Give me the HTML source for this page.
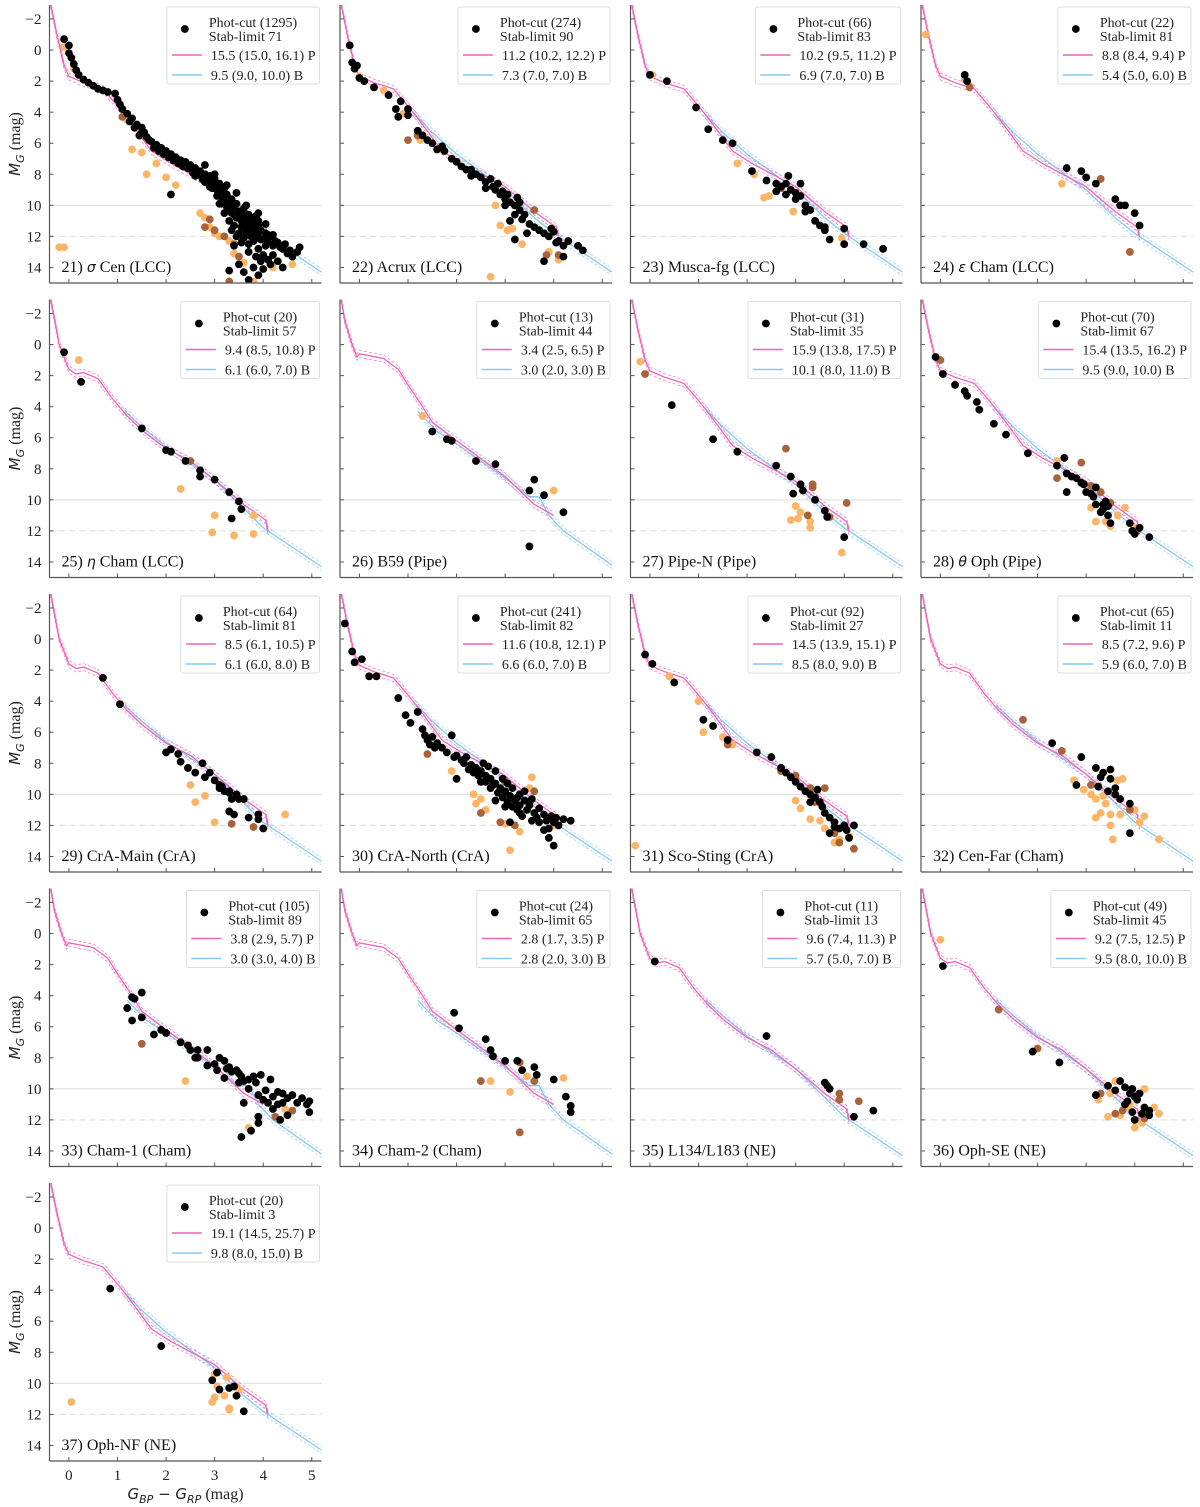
<!DOCTYPE html>
<html><head><meta charset="utf-8"><style>
body{margin:0;background:#fff;}
svg{display:block;font-family:"Liberation Serif",serif;}
</style></head><body>
<svg id="c" width="1200" height="1507" viewBox="0 0 1200 1507"></svg>
<script>
const panelNames=["21) |σ| Cen (LCC)","22) Acrux (LCC)","23) Musca-fg (LCC)","24) |ε| Cham (LCC)","25) |η| Cham (LCC)","26) B59 (Pipe)","27) Pipe-N (Pipe)","28) |θ| Oph (Pipe)","29) CrA-Main (CrA)","30) CrA-North (CrA)","31) Sco-Sting (CrA)","32) Cen-Far (Cham)","33) Cham-1 (Cham)","34) Cham-2 (Cham)","35) L134/L183 (NE)","36) Oph-SE (NE)","37) Oph-NF (NE)"];
const photCut=[1295,274,66,22,20,13,31,70,64,241,92,65,105,24,11,49,20];
const stabLimit=[71,90,83,81,57,44,35,67,81,82,27,11,89,65,13,45,3];
const ageP=["15.5 (15.0, 16.1) P","11.2 (10.2, 12.2) P","10.2 (9.5, 11.2) P","8.8 (8.4, 9.4) P","9.4 (8.5, 10.8) P","3.4 (2.5, 6.5) P","15.9 (13.8, 17.5) P","15.4 (13.5, 16.2) P","8.5 (6.1, 10.5) P","11.6 (10.8, 12.1) P","14.5 (13.9, 15.1) P","8.5 (7.2, 9.6) P","3.8 (2.9, 5.7) P","2.8 (1.7, 3.5) P","9.6 (7.4, 11.3) P","9.2 (7.5, 12.5) P","19.1 (14.5, 25.7) P"];
const ageB=["9.5 (9.0, 10.0) B","7.3 (7.0, 7.0) B","6.9 (7.0, 7.0) B","5.4 (5.0, 6.0) B","6.1 (6.0, 7.0) B","3.0 (2.0, 3.0) B","10.1 (8.0, 11.0) B","9.5 (9.0, 10.0) B","6.1 (6.0, 8.0) B","6.6 (6.0, 7.0) B","8.5 (8.0, 9.0) B","5.9 (6.0, 7.0) B","3.0 (3.0, 4.0) B","2.8 (2.0, 3.0) B","5.7 (5.0, 7.0) B","9.5 (8.0, 10.0) B","9.8 (8.0, 15.0) B"];
const isoType=["old","old","old","old","mid","young","old","old","mid","old","old","mid","young","young","mid","mid","old"];
const isoP_old=[[-0.38,-3],[-0.25,-1],[-0.1,1],[0,1.7],[0.3,2.1],[0.5,2.3],[0.7,2.5],[1.0,3.6],[1.3,4.8],[1.7,6.5],[2.1,7.3],[3,8.8],[3.6,10.4],[4.05,11.4],[4.1,12]];
const isoB_old=[[1.1,4.0],[1.5,5.3],[2,6.7],[3,9.0],[3.6,10.8],[4.0,11.8],[5.2,14.3]];
const isoP_mid=[[-0.38,-3],[-0.2,0],[0,1.6],[0.15,1.9],[0.3,1.8],[0.6,2.2],[0.9,3.5],[1.2,4.6],[1.5,5.5],[2,6.7],[2.5,7.5],[3.0,8.7],[3.6,10.3],[4.05,11.3],[4.1,12]];
const isoB_mid=[[1.15,4.3],[1.5,5.3],[2,6.6],[3,8.7],[4,11.8],[5.2,14.3]];
const isoP_young=[[-0.38,-3],[-0.3,-1.5],[-0.15,0],[-0.05,0.8],[0,0.6],[0.5,0.9],[0.8,1.6],[1.0,2.6],[1.3,4.0],[1.5,5.0],[2,6.2],[3,8.5],[3.6,10.3],[4.0,11.0]];
const isoB_young=[[1.2,4.3],[1.6,5.6],[2,6.4],[3,8.6],[3.5,9.8],[3.7,9.8],[3.9,11],[4.2,12],[5.2,14.2]];
const starsBlack=[
[[-0.1,-0.7],[0.0,-0.3],[0,0.2],[0.05,0.5],[0.1,0.9],[0.15,1.3],[0.2,1.6],[0.3,1.9],[0.4,2.1],[0.5,2.3],[0.6,2.5],[0.7,2.6],[0.8,2.7],[0.95,2.8],[1.0,3.2],[1.05,3.5],[1.1,3.8],[1.2,4.1],[1.3,4.4],[1.4,4.8],[1.5,5.0],[1.55,5.3],[1.6,5.6],[1.7,5.9],[1.8,6.1],[1.9,6.3],[2.0,6.5],[2.1,6.7],[2.2,6.9],[2.3,7.1],[2.4,7.2],[2.5,7.4],[2.6,7.6],[2.7,7.8],[2.8,8.0],[2.85,8.3],[2.9,8.1],[2.95,8.5],[3.0,8.3],[3.0,8.8],[3.05,9.0],[3.1,8.6],[3.1,9.2],[3.15,9.5],[3.2,8.9],[3.2,9.7],[3.25,9.3],[3.3,9.9],[3.3,10.3],[3.35,9.6],[3.4,10.1],[3.4,10.6],[3.45,9.9],[3.5,10.4],[3.5,10.8],[3.55,11.0],[3.6,10.2],[3.6,10.7],[3.65,11.2],[3.7,10.6],[3.7,11.4],[3.75,10.9],[3.8,11.6],[3.8,11.1],[3.85,11.8],[3.9,11.3],[3.9,12.0],[3.95,11.6],[4.0,12.2],[4.05,11.8],[4.1,12.4],[4.15,12.0],[4.2,12.6],[4.3,12.4],[4.4,12.8],[4.5,13.1],[4.6,13.3],[4.7,13.0],[4.75,12.7],[3.1,9.9],[3.2,10.5],[3.3,11.0],[3.4,11.3],[3.5,11.8],[3.6,12.1],[3.7,12.5],[3.8,12.3],[3.9,12.8],[4.0,13.2],[4.1,13.5],[4.2,13.2],[3.3,14.2],[3.5,13.8],[3.6,14.3],[3.7,14.8],[3.8,14.0],[3.9,14.5],[4.0,14.1],[4.3,13.6],[4.4,14.0],[2.1,9.3],[2.8,7.4],[1.5,5.3],[3.9,10.5],[3.4,12.6],[4.2,11.9],[3.0,8.0],[3.25,8.7],[3.45,9.2],[3.65,10.0],[3.85,10.7],[4.05,11.2],[2.6,8.1],[2.9,8.8],[1.25,4.6],[1.35,5.0],[1.45,5.5],[1.65,5.8],[1.75,6.3],[1.85,6.5],[1.95,6.7],[2.05,6.9],[2.15,7.1],[2.25,7.3],[2.35,7.5],[2.45,7.6],[2.55,7.9],[2.65,8.0],[2.75,8.3],[2.8,8.5],[2.95,8.9],[3.05,9.4],[3.15,9.0],[3.15,9.9],[3.25,10.1],[3.35,10.5],[3.45,10.8],[3.55,10.5],[3.55,11.4],[3.65,11.0],[3.65,11.7],[3.75,11.3],[3.75,12.0],[3.85,11.4],[3.95,12.2],[4.05,12.6],[4.1,11.9],[4.25,12.3],[4.35,12.7],[4.45,12.5],[4.55,12.9],[3.35,11.6],[3.45,12.0],[3.55,12.4],[3.7,13.0],[3.85,13.3],[3.95,13.6],[4.15,13.8],[3.75,11.8],[3.9,11.0]],
[[-0.2,-0.3],[-0.15,0.8],[-0.1,1.2],[-0.05,1.0],[0.0,1.8],[0.1,2.0],[0.3,2.4],[0.6,2.9],[0.85,3.3],[0.75,3.8],[0.8,4.3],[1.0,3.8],[1.0,4.2],[1.2,5.2],[1.3,5.5],[1.4,5.8],[1.5,6.0],[1.6,6.4],[1.75,6.5],[2.0,7.2],[2.1,7.5],[2.3,7.7],[2.4,8.0],[2.5,8.2],[2.6,8.5],[2.7,8.3],[2.75,8.8],[2.8,9.0],[2.9,9.3],[2.95,9.1],[3.0,9.6],[3.1,9.8],[3.2,10.0],[3.2,10.6],[3.3,10.3],[3.35,10.9],[3.4,10.6],[3.5,11.2],[3.6,11.4],[3.7,11.6],[3.8,11.8],[3.9,12.0],[4.0,11.7],[4.1,12.3],[4.2,12.6],[4.3,12.3],[4.5,12.6],[4.6,12.9],[3.1,11.0],[3.45,11.8],[3.2,12.2],[3.8,13.6],[4.2,13.3],[2.3,8.1],[2.6,8.9],[1.9,7.0],[3.0,10.0],[3.3,9.8],[4.05,12.4],[3.95,11.5],[1.7,6.2],[2.2,7.7],[2.85,8.6],[3.05,9.3],[3.25,9.5]],
[[0.0,1.6],[0.35,2.0],[0.95,3.7],[1.2,5.1],[1.5,5.8],[1.7,6.0],[2.1,7.8],[2.4,8.4],[2.6,8.6],[2.7,8.8],[2.8,9.3],[2.85,8.1],[2.9,9.0],[3.0,9.6],[3.1,8.6],[3.1,9.4],[3.2,10.0],[3.3,10.3],[3.4,11.0],[3.5,11.3],[3.6,11.4],[3.7,12.2],[4.0,12.5],[4.0,11.5],[4.4,12.5],[4.8,12.8],[2.6,9.1],[2.8,8.6],[3.0,9.2],[3.2,10.4],[3.6,11.6]],
[[0.5,1.6],[0.55,2.0],[2.6,7.6],[2.9,7.8],[3.0,8.2],[3.2,8.6],[3.6,9.6],[3.7,10.0],[3.8,10.0],[4.0,10.5],[4.1,11.3]],
[[-0.1,0.5],[0.25,2.4],[1.5,5.4],[2.0,6.8],[2.1,6.9],[2.4,7.5],[2.7,8.1],[2.7,8.5],[3.0,8.7],[3.3,9.5],[3.5,10.1],[3.55,10.6],[3.35,11.2]],
[[1.5,5.6],[1.8,6.1],[1.9,6.2],[2.4,7.5],[2.8,7.7],[3.5,9.4],[3.6,8.7],[3.8,9.7],[4.2,10.8],[3.5,13.0]],
[[0.45,3.9],[1.3,6.1],[1.8,6.9],[2.6,7.8],[2.9,8.5],[2.95,9.6],[3.1,9.0],[3.15,9.4],[3.4,10.0],[3.6,10.7],[4.0,12.4],[3.65,11.1]],
[[-0.1,0.8],[0.05,1.9],[0.3,2.6],[0.5,3.0],[0.55,3.3],[0.75,3.7],[0.8,4.2],[1.1,5.1],[1.35,5.8],[1.8,7.0],[2.4,7.8],[2.55,7.3],[2.6,8.3],[2.6,9.5],[2.7,8.5],[2.8,8.6],[2.9,8.9],[2.95,9.0],[3.0,9.5],[3.1,9.6],[3.15,9.8],[3.2,10.3],[3.3,10.8],[3.35,10.6],[3.4,10.1],[3.45,11.0],[3.5,11.5],[3.9,11.5],[3.95,12.0],[4.0,12.2],[4.1,11.8],[4.3,12.4],[3.2,9.2],[3.35,10.3],[3.45,10.4]],
[[0.7,2.5],[1.05,4.2],[2.0,7.3],[2.1,7.1],[2.25,7.4],[2.3,7.9],[2.45,8.3],[2.6,8.6],[2.8,8.9],[2.9,8.6],[3.0,9.1],[3.1,9.4],[3.15,9.5],[3.2,9.8],[3.3,9.9],[3.35,10.3],[3.45,10.0],[3.5,10.3],[3.6,10.3],[3.3,11.1],[3.4,11.3],[3.9,11.3],[3.9,11.6],[4.0,12.2],[3.7,11.5],[2.75,8.0],[3.1,9.6],[3.3,9.8]],
[[-0.3,-1.0],[-0.15,0.8],[-0.1,1.5],[0.05,1.3],[0.2,2.4],[0.35,2.4],[0.8,3.8],[0.95,4.9],[1.05,5.4],[1.2,4.7],[1.3,5.8],[1.35,6.2],[1.5,6.3],[1.6,6.7],[1.9,6.2],[2.0,7.5],[2.1,7.8],[2.2,7.6],[2.3,8.1],[2.4,8.3],[2.5,8.5],[2.55,8.0],[2.6,8.8],[2.7,9.0],[2.8,8.5],[2.8,9.3],[2.9,9.6],[2.95,9.0],[3.0,9.8],[3.05,9.3],[3.1,10.1],[3.15,9.6],[3.2,10.4],[3.3,10.0],[3.3,10.7],[3.4,10.4],[3.45,11.0],[3.5,10.7],[3.6,11.2],[3.65,11.5],[3.7,10.9],[3.8,11.3],[3.85,11.7],[3.95,11.4],[4.0,11.8],[4.1,12.0],[4.2,11.6],[4.35,11.7],[3.55,11.7],[3.8,12.3],[4.0,13.3],[3.9,12.8],[3.1,11.8],[2.0,9.0],[2.8,10.4],[3.3,11.2],[3.0,10.8],[2.5,9.2],[2.65,8.2],[1.4,6.5],[1.7,7.0],[2.35,8.6],[2.75,9.4],[3.25,10.2],[1.45,6.8],[1.55,7.0],[1.8,7.3],[1.95,7.6],[2.15,8.0],[2.25,8.4],[2.45,8.8],[2.6,9.2],[2.7,9.6],[2.85,9.9],[2.95,10.2],[3.05,10.5],[3.15,10.8],[3.25,11.0],[3.35,11.4],[3.4,9.8],[3.55,10.3],[3.7,11.8],[3.9,12.2],[4.05,11.5]],
[[-0.1,1.0],[0.05,1.6],[0.5,2.8],[1.1,5.2],[1.3,5.6],[1.6,6.5],[2.2,7.3],[2.5,7.6],[2.7,8.3],[2.8,8.6],[2.9,8.9],[3.0,9.2],[3.1,9.5],[3.2,9.8],[3.3,10.0],[3.4,10.2],[3.45,9.7],[3.5,10.5],[3.55,10.8],[3.6,11.2],[3.7,11.5],[3.8,11.8],[3.9,12.2],[4.0,12.0],[4.05,12.3],[4.1,12.8],[4.2,12.0],[3.3,10.5],[3.7,12.5],[3.8,12.1]],
[[2.3,6.7],[2.9,7.6],[3.2,8.3],[3.35,8.6],[3.5,8.4],[3.5,9.0],[3.25,9.5],[3.45,9.8],[3.6,10.0],[3.7,10.3],[2.8,9.4],[3.9,10.6],[3.9,12.5],[3.6,9.6],[3.3,8.9]],
[[1.2,4.8],[1.3,4.1],[1.35,4.2],[1.5,3.8],[1.5,5.4],[1.3,5.6],[1.75,6.5],[1.9,6.2],[2.0,6.4],[2.3,7.0],[2.45,7.2],[2.5,7.5],[2.65,7.5],[2.85,7.5],[2.65,8.0],[2.85,8.5],[3.0,8.4],[3.05,8.8],[3.1,8.0],[3.2,8.2],[3.25,8.7],[3.3,8.6],[3.35,8.9],[3.45,8.8],[3.5,9.0],[3.55,9.2],[3.6,9.5],[3.7,9.4],[3.8,9.2],[3.85,9.6],[3.7,10.0],[3.9,10.4],[4.0,10.7],[4.05,10.1],[4.1,10.9],[4.2,10.5],[4.3,10.2],[4.4,10.3],[4.4,10.9],[4.3,11.0],[4.2,11.3],[4.5,10.6],[4.6,10.4],[4.8,10.6],[4.9,11.0],[4.95,10.8],[4.95,11.5],[4.5,11.7],[4.35,12.0],[3.9,11.8],[3.9,12.2],[3.6,10.9],[3.55,13.1],[3.75,12.7],[3.5,9.6],[3.2,9.3],[2.6,8.0],[4.7,10.9],[4.15,9.4],[3.95,9.1]],
[[1.95,5.1],[2.05,6.1],[2.6,6.8],[2.7,7.5],[2.75,7.9],[3.0,8.2],[3.25,8.2],[3.35,8.8],[3.6,8.6],[3.65,9.1],[4.0,9.4],[4.25,10.5],[4.35,11.1],[4.35,11.5]],
[[0.1,1.8],[2.4,6.6],[3.6,9.6],[3.65,9.8],[3.7,10.0],[4.2,11.8],[4.6,11.4]],
[[0.05,2.1],[1.9,7.6],[2.45,8.3],[3.45,9.8],[3.6,10.1],[3.8,9.9],[3.9,10.3],[3.95,10.0],[4.0,10.5],[4.1,10.3],[3.8,11.0],[3.85,10.8],[4.2,11.2],[4.3,11.4],[3.2,10.4],[3.7,9.5],[3.95,11.5],[4.05,10.7],[4.15,11.6],[4.3,11.7],[4.0,12.0]],
[[0.85,3.9],[1.9,7.6],[2.95,9.8],[3.05,9.3],[3.1,10.4],[3.3,10.3],[3.4,10.2],[3.45,10.8],[3.6,11.8]]
];
const starsOrange=[
[[0.1,1.2],[-0.1,-0.2],[1.2,4.5],[1.3,6.4],[1.5,6.6],[1.8,7.3],[2.0,8.2],[1.6,8.0],[2.2,8.7],[2.7,10.5],[2.9,11.4],[3.0,11.8],[3.1,12.0],[3.3,12.3],[3.4,13.1],[3.6,13.7],[3.8,14.9],[4.2,14.0],[4.6,13.8],[-0.1,12.7],[-0.2,12.7],[3.5,12.0],[2.8,10.8]],
[[0.0,1.7],[0.5,2.6],[0.9,4.1],[1.25,5.8],[1.7,6.4],[2.8,10.0],[2.9,11.3],[3.05,11.6],[3.15,11.5],[3.35,12.5],[2.7,14.6],[4.1,13.5],[3.9,13.0]],
[[0.05,1.6],[1.8,7.3],[2.15,8.0],[2.35,9.5],[2.45,9.4],[2.95,10.4],[3.95,12.1]],
[[-0.3,-1.0],[0.5,1.9],[0.6,2.3],[2.5,8.6]],
[[0.2,1.0],[2.3,9.3],[3.0,11.0],[2.95,12.1],[3.4,12.3],[3.8,12.2],[3.8,11.0]],
[[1.3,4.6],[4.0,9.4]],
[[-0.2,1.1],[2.9,11.3],[3.0,10.4],[3.05,11.2],[3.3,11.8],[3.1,10.8],[3.95,13.4],[3.3,11.4]],
[[2.4,7.5],[3.1,10.5],[3.2,11.4],[3.4,11.4],[3.5,11.7],[3.65,11.0],[4.0,11.8],[3.8,10.5]],
[[2.5,9.4],[2.6,10.5],[2.8,10.1],[3.0,11.8],[4.45,11.3]],
[[1.9,8.5],[2.35,10.0],[2.4,10.6],[2.6,11.0],[3.0,11.9],[3.3,12.4],[3.5,9.6],[3.55,8.9],[3.1,13.6],[4.0,12.0],[2.5,10.3]],
[[0.4,2.4],[1.0,4.0],[1.1,6.0],[1.5,6.3],[1.7,6.8],[3.0,10.4],[3.1,10.9],[3.3,11.6],[3.5,11.7],[3.6,12.2],[3.9,12.9],[4.1,12.7],[-0.3,13.3],[3.8,13.1]],
[[2.75,9.1],[2.95,9.7],[3.1,10.0],[3.2,10.3],[3.35,10.1],[3.4,10.6],[3.5,11.3],[3.3,11.2],[3.5,12.0],[3.55,12.9],[3.2,11.5],[3.75,9.0],[3.7,11.3],[4.0,11.0],[4.2,11.4],[4.1,11.8],[4.5,12.9],[3.65,9.1]],
[[2.4,9.5],[4.45,11.3],[3.7,12.5]],
[[2.7,9.5],[3.1,10.2],[4.2,9.3],[3.45,9.2]],
[],
[[0.0,0.4],[3.9,11.0],[3.6,9.5],[3.25,10.7],[3.5,10.3],[4.2,10.0],[4.5,11.6],[3.45,11.8],[3.7,11.7],[4.0,12.5],[4.15,12.2],[4.4,11.2],[3.85,11.2]],
[[0.05,11.2],[3.0,9.4],[3.0,10.9],[2.95,11.2],[3.25,9.6],[3.3,11.6],[3.3,11.7],[3.2,10.8],[3.5,10.4],[3.05,10.2]]
];
const starsBrown=[
[[3.0,11.6],[2.8,11.4],[3.2,12.0],[3.4,12.5],[3.3,14.9],[1.1,4.3],[3.5,13.3],[2.9,10.9]],
[[1.0,5.8],[1.2,5.5],[3.6,10.3],[3.85,13.2],[4.1,13.2]],
[[2.7,8.9]],
[[0.6,2.4],[3.9,13.0],[3.3,8.3]],
[[2.5,7.5]],
[],
[[-0.1,1.9],[2.8,6.7],[3.35,9.0],[3.35,9.2],[3.25,11.0],[4.05,10.2],[3.7,11.1]],
[[0.0,1.0],[2.9,7.6],[2.4,8.6],[3.1,9.1],[3.3,9.5],[4.05,12.0],[3.5,10.2]],
[[3.35,11.9],[3.8,12.1]],
[[1.4,7.4],[2.5,11.2],[3.2,12.0],[3.0,9.2],[3.6,9.8],[2.9,11.8]],
[[1.6,6.8],[2.7,8.5],[3.0,8.8],[3.3,9.6],[3.6,9.6],[3.4,10.5],[3.8,12.5],[3.9,13.1],[4.2,13.5]],
[[1.7,5.2],[2.5,7.2],[3.1,9.4],[3.9,11.0]],
[[1.5,7.1],[4.6,11.4],[4.25,11.8]],
[[2.5,9.5],[3.3,8.3],[3.3,12.8],[3.6,9.5]],
[[0.1,1.8],[3.9,10.7],[4.3,10.8],[3.9,10.3]],
[[1.2,4.9],[2.0,7.4],[3.3,10.3],[3.6,11.6],[4.05,10.4],[4.2,11.9],[3.75,11.4]],
[]
];
const yTicks=[-2,0,2,4,6,8,10,12,14];
const xTicks=[0,1,2,3,4,5];

const NS="http://www.w3.org/2000/svg";
const svg=document.getElementById('c');
const colLeft=[49.5,340,630.5,921], rowTop=[5,299.5,594,888.5,1183];
const W=272,H=278,X0=-0.4,X1=5.2,Y0=-2.9,Y1=15;
function mk(tag,attrs,parent){const e=document.createElementNS(NS,tag);for(const k in attrs)e.setAttribute(k,attrs[k]);(parent||svg).appendChild(e);return e;}
const isoSets={old:[isoP_old,isoB_old],mid:[isoP_mid,isoB_mid],young:[isoP_young,isoB_young]};

for(let i=0;i<17;i++){
  const L=colLeft[i%4],T=rowTop[Math.floor(i/4)];
  const sx=v=>L+(v-X0)/(X1-X0)*W, sy=v=>T+(v-Y0)/(Y1-Y0)*H;
  const g=mk('g',{});
  
  
  const cp=mk('clipPath',{id:'cp'+i},g);mk('rect',{x:L,y:T,width:W,height:H},cp);
  const r1=mk('line',{x1:L,x2:L+W,y1:sy(10),y2:sy(10),stroke:'#e3e3e3','stroke-width':1.3},g);
  
  const r2=mk('line',{x1:L,x2:L+W,y1:sy(12),y2:sy(12),stroke:'#e3e3e3','stroke-width':1.3,'stroke-dasharray':'6,4'},g);
  
  const pg=mk('g',{'clip-path':'url(#cp'+i+')'},g);
  const [ip,ib]=isoSets[isoType[i]];
  const path=a=>a.map((p,j)=>(j?'L':'M')+sx(p[0]).toFixed(1)+','+sy(p[1]).toFixed(1)).join('');
  [[ib,'#86c8ef'],[ip,'#f062b8']].forEach(([arr,col],k)=>{
    [-3.5,3.5].forEach(o=>{const d=mk('path',{d:path(arr),fill:'none',stroke:col,'stroke-width':0.8,'stroke-dasharray':'3,2',transform:'translate(0,'+o+')',opacity:0.8},pg);
      });
    const m=mk('path',{d:path(arr),fill:'none',stroke:col,'stroke-width':1.3},pg);
    
  });
  [[starsOrange[i],'#fbb567'],[starsBrown[i],'#a8633a'],[starsBlack[i],'#000']].forEach(([arr,col])=>{
    arr.forEach(p=>{const c=mk('circle',{cx:sx(p[0]),cy:sy(p[1]),r:3.9,fill:col},pg);
      });
  });
  mk('line',{x1:L,x2:L,y1:T,y2:T+H,stroke:'#555','stroke-width':1.2},g);
  mk('line',{x1:L,x2:L+W,y1:T+H,y2:T+H,stroke:'#555','stroke-width':1.2},g);
  yTicks.forEach(v=>{mk('line',{x1:L,x2:L+4,y1:sy(v),y2:sy(v),stroke:'#555'},g);
    if(i%4===0){const t=mk('text',{x:L-8,y:sy(v)+5,'text-anchor':'end','font-size':15,fill:'#222'},g);t.textContent=v<0?'−'+(-v):v;
      }});
  xTicks.forEach(v=>{mk('line',{x1:sx(v),x2:sx(v),y1:T+H,y2:T+H-4,stroke:'#555'},g);
    if(i===16){const t=mk('text',{x:sx(v),y:T+H+19,'text-anchor':'middle','font-size':15,fill:'#222'},g);t.textContent=v;
      }});
  const lab=mk('text',{x:L+12,y:T+H-11,'font-size':16,fill:'#111'},g);
  
  panelNames[i].split('|').forEach((s,k)=>{const ts=mk('tspan',{},lab);ts.textContent=s;if(k%2===1){ts.setAttribute('font-style','italic');ts.setAttribute('font-family','DejaVu Sans, sans-serif');ts.setAttribute('font-size',14);}});
  const lg=mk('g',{},g);
  
  const box=mk('rect',{y:T+2,height:77,rx:2,fill:'#fff',stroke:'#ddd','stroke-width':1},lg);
  const texts=['Phot-cut ('+photCut[i]+')','Stab-limit '+stabLimit[i],ageP[i],ageB[i]];
  const ys=[T+17,T+31,T+50,T+70];
  const tEls=texts.map((s,k)=>{const t=mk('text',{y:ys[k]+5,'font-size':14,fill:'#222'},lg);t.textContent=s;
    return t;});
  const w0=Math.max(...tEls.slice(0,2).map(t=>t.getComputedTextLength()));
  const w1=Math.max(...tEls.slice(2).map(t=>t.getComputedTextLength()));
  const mw=Math.max(w0+42,w1+44);
  const bx=L+W-2-mw-4;
  box.setAttribute('x',bx);box.setAttribute('width',mw+4);
  tEls[0].setAttribute('x',bx+42);tEls[1].setAttribute('x',bx+42);tEls[2].setAttribute('x',bx+44);tEls[3].setAttribute('x',bx+44);
  mk('circle',{cx:bx+18,cy:T+24,r:3.9,fill:'#000'},lg);
  mk('line',{x1:bx+5,x2:bx+35,y1:ys[2],y2:ys[2],stroke:'#f062b8','stroke-width':1.4},lg);
  mk('line',{x1:bx+5,x2:bx+35,y1:ys[3],y2:ys[3],stroke:'#86c8ef','stroke-width':1.4},lg);
  if(i%4===0){
    const yl=mk('text',{x:0,y:0,'font-size':16,fill:'#222','text-anchor':'middle',transform:'translate(20,'+(T+H/2)+') rotate(-90)'},g);
    
    yl.innerHTML='<tspan font-style="italic" font-family="DejaVu Sans, sans-serif" font-size="15">M</tspan><tspan font-style="italic" font-family="DejaVu Sans, sans-serif" font-size="11" dy="4">G</tspan><tspan dy="-4"> (mag)</tspan>';
  }
  if(i===16){
    const xl=mk('text',{x:L+W/2,y:T+H+38,'font-size':16,fill:'#222','text-anchor':'middle'},g);
    
    xl.innerHTML='<tspan font-style="italic" font-family="DejaVu Sans, sans-serif" font-size="15">G</tspan><tspan font-style="italic" font-family="DejaVu Sans, sans-serif" font-size="11" dy="4">BP</tspan><tspan dy="-4" font-family="DejaVu Sans, sans-serif" font-size="15"> − </tspan><tspan font-style="italic" font-family="DejaVu Sans, sans-serif" font-size="15">G</tspan><tspan font-style="italic" font-family="DejaVu Sans, sans-serif" font-size="11" dy="4">RP</tspan><tspan dy="-4"> (mag)</tspan>';
  }
}
</script>
</body></html>
